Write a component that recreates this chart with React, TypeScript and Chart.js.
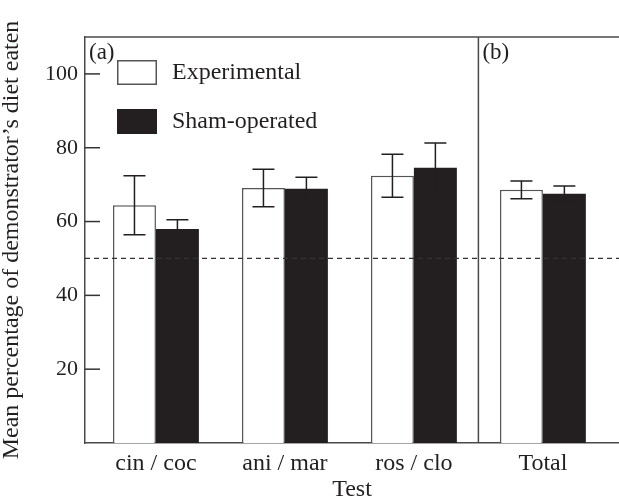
import React, { useEffect, useRef } from 'react';
import { Chart, registerables } from 'chart.js';

Chart.register(...registerables);

// ---- data ----
const categories = ['cin / coc', 'ani / mar', 'ros / clo', 'Total'];
const seriesNames = ['Experimental', 'Sham-operated'];
const experimental = [64.4, 69.1, 72.4, 68.6];
const experimentalErr = [8.0, 5.1, 5.8, 2.4];
const sham = [58.0, 68.9, 74.6, 67.5];
const shamErr = [2.5, 3.1, 6.7, 2.1];
const yTicks = [20, 40, 60, 80, 100];
const chanceLevel = 50;
const panelLabels = ['(a)', '(b)'];
const xTitle = 'Test';
const yTitle = 'Mean percentage of demonstrator\u2019s diet eaten';

// ---- styles ----
const FONT = '"Liberation Serif", "Times New Roman", serif';
const INK = '#231f20';
const LINE = '#4a4a4a';

const errorSets = [experimentalErr, shamErr];

const decor = {
  id: 'decor',
  afterDatasetsDraw(chart: any) {
    const { ctx, chartArea: a, scales } = chart;
    const x = scales.x;
    const y = scales.y;
    ctx.save();

    // dashed chance line
    ctx.strokeStyle = '#333';
    ctx.lineWidth = 1.3;
    ctx.setLineDash([5, 4]);
    const yc = y.getPixelForValue(chanceLevel);
    ctx.beginPath();
    ctx.moveTo(a.left, yc);
    ctx.lineTo(a.right, yc);
    ctx.stroke();
    ctx.setLineDash([]);

    // error bars
    ctx.strokeStyle = INK;
    ctx.lineWidth = 1.5;
    chart.data.datasets.forEach((ds: any, di: number) => {
      const meta = chart.getDatasetMeta(di);
      meta.data.forEach((bar: any, j: number) => {
        const v = ds.data[j].y;
        const e = errorSets[di][j];
        const top = y.getPixelForValue(v + e);
        const bot = y.getPixelForValue(v - e);
        const cx = bar.x;
        const hw = 11;
        ctx.beginPath();
        ctx.moveTo(cx, top);
        ctx.lineTo(cx, bot);
        ctx.moveTo(cx - hw, top);
        ctx.lineTo(cx + hw, top);
        ctx.moveTo(cx - hw, bot);
        ctx.lineTo(cx + hw, bot);
        ctx.stroke();
      });
    });

    // top frame line
    ctx.strokeStyle = LINE;
    ctx.lineWidth = 1.5;
    ctx.beginPath();
    ctx.moveTo(a.left, a.top);
    ctx.lineTo(a.right, a.top);
    ctx.stroke();

    // divider between panels
    const xd = x.getPixelForValue(3.5);
    ctx.beginPath();
    ctx.moveTo(xd, a.top);
    ctx.lineTo(xd, a.bottom);
    ctx.stroke();

    // inward y ticks
    ctx.strokeStyle = '#333';
    ctx.lineWidth = 1.5;
    yTicks.forEach((t) => {
      const py = y.getPixelForValue(t);
      ctx.beginPath();
      ctx.moveTo(a.left, py);
      ctx.lineTo(a.left + 15, py);
      ctx.stroke();
    });

    // panel labels
    ctx.fillStyle = INK;
    ctx.font = `23px ${FONT}`;
    ctx.textAlign = 'left';
    ctx.textBaseline = 'alphabetic';
    ctx.fillText(panelLabels[0], a.left + 4, a.top + 22);
    ctx.fillText(panelLabels[1], xd + 4, a.top + 22);

    // legend
    ctx.font = `24px ${FONT}`;
    chart.data.datasets.forEach((ds: any, i: number) => {
      const bx = a.left + 32;
      const by = a.top + 23 + i * 49;
      const bw = 40;
      const bh = 25;
      ctx.fillStyle = ds.backgroundColor;
      ctx.fillRect(bx, by, bw, bh);
      ctx.strokeStyle = ds.borderColor;
      ctx.lineWidth = 1.5;
      ctx.strokeRect(bx + 0.75, by + 0.75, bw - 1.5, bh - 1.5);
      ctx.fillStyle = INK;
      ctx.textBaseline = 'middle';
      ctx.fillText(ds.label, bx + bw + 15, by + bh / 2);
    });

    ctx.restore();
  },
};

export default function App() {
  const ref = useRef<HTMLCanvasElement | null>(null);

  useEffect(() => {
    if (!ref.current) return;
    const chart = new Chart(ref.current, {
      type: 'bar',
      data: {
        datasets: [
          {
            label: seriesNames[0],
            data: experimental.map((v, i) => ({ x: i + 1, y: v })),
            backgroundColor: '#ffffff',
            borderColor: '#555555',
            borderWidth: 1.5,
            borderSkipped: 'start',
          },
          {
            label: seriesNames[1],
            data: sham.map((v, i) => ({ x: i + 1, y: v })),
            backgroundColor: INK,
            borderColor: INK,
            borderWidth: 0,
          },
        ],
      },
      options: {
        animation: false,
        responsive: false,
        datasets: { bar: { categoryPercentage: 0.666, barPercentage: 1 } },
        layout: { padding: { top: 37, right: 0, bottom: 0, left: 0 } },
        plugins: { legend: { display: false }, tooltip: { enabled: false } },
        scales: {
          x: {
            type: 'linear',
            offset: false,
            min: 0.45,
            max: 4.59,
            afterBuildTicks: (s: any) => {
              s.ticks = categories.map((_, i) => ({ value: i + 1 }));
            },
            afterFit: (s: any) => {
              s.height = 59;
            },
            ticks: {
              callback: (v: any) => categories[Math.round(Number(v)) - 1] ?? '',
              autoSkip: false,
              maxRotation: 0,
              padding: 6,
              color: INK,
              font: { family: FONT, size: 24 },
            },
            grid: { display: false, drawTicks: false, offset: false },
            border: { display: true, color: LINE, width: 1.5 },
            title: {
              display: true,
              text: xTitle,
              color: INK,
              font: { family: FONT, size: 24, lineHeight: 1 },
              padding: 0,
            },
          },
          y: {
            min: 0,
            max: 110,
            afterBuildTicks: (s: any) => {
              s.ticks = yTicks.map((v) => ({ value: v }));
            },
            afterFit: (s: any) => {
              s.width = 85;
            },
            ticks: {
              callback: (v: any) => String(v),
              padding: 7,
              color: INK,
              font: { family: FONT, size: 22 },
            },
            grid: { display: false, drawTicks: false },
            border: { display: true, color: LINE, width: 1.5 },
            title: {
              display: true,
              text: yTitle,
              color: INK,
              font: { family: FONT, size: 24, lineHeight: 1 },
              padding: { top: 0, bottom: 0 },
            },
          },
        },
      } as any,
      plugins: [decor],
    });
    return () => chart.destroy();
  }, []);

  return (
    <div
      style={{
        position: 'fixed',
        left: 0,
        top: 0,
        width: 619,
        height: 502,
        background: '#ffffff',
      }}
    >
      <canvas ref={ref} width={619} height={502} style={{ display: 'block' }} />
    </div>
  );
}
